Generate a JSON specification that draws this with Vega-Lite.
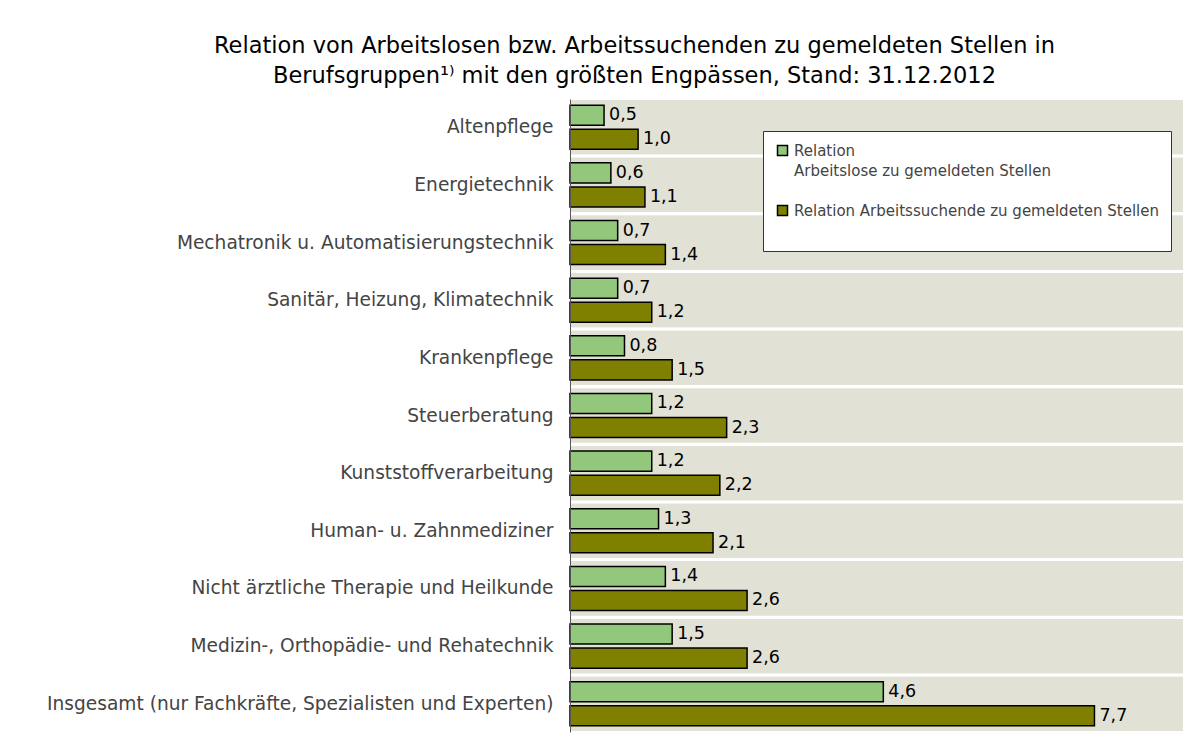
{
  "$schema": "https://vega.github.io/schema/vega-lite/v6.json",
  "width": 613,
  "height": 633,
  "autosize": {"type": "none"},
  "padding": {"left": 570, "top": 99, "right": 17, "bottom": 7},
  "background": "white",
  "title": {
    "text": ["Relation von Arbeitslosen bzw. Arbeitssuchenden zu gemeldeten Stellen in", "Berufsgruppen¹⁾ mit den größten Engpässen, Stand: 31.12.2012"],
    "anchor": "middle",
    "frame": "group",
    "dx": -242,
    "fontSize": 22.5,
    "font": "DejaVu Sans",
    "fontWeight": "normal",
    "color": "#000000",
    "lineHeight": 30,
    "offset": 12
  },
  "data": {
    "values": [
      {"Berufsgruppe": "Altenpflege", "Reihe": "Relation Arbeitslose zu gemeldeten Stellen", "Wert": 0.5},
      {"Berufsgruppe": "Altenpflege", "Reihe": "Relation Arbeitssuchende zu gemeldeten Stellen", "Wert": 1.0},
      {"Berufsgruppe": "Energietechnik", "Reihe": "Relation Arbeitslose zu gemeldeten Stellen", "Wert": 0.6},
      {"Berufsgruppe": "Energietechnik", "Reihe": "Relation Arbeitssuchende zu gemeldeten Stellen", "Wert": 1.1},
      {"Berufsgruppe": "Mechatronik u. Automatisierungstechnik", "Reihe": "Relation Arbeitslose zu gemeldeten Stellen", "Wert": 0.7},
      {"Berufsgruppe": "Mechatronik u. Automatisierungstechnik", "Reihe": "Relation Arbeitssuchende zu gemeldeten Stellen", "Wert": 1.4},
      {"Berufsgruppe": "Sanitär, Heizung, Klimatechnik", "Reihe": "Relation Arbeitslose zu gemeldeten Stellen", "Wert": 0.7},
      {"Berufsgruppe": "Sanitär, Heizung, Klimatechnik", "Reihe": "Relation Arbeitssuchende zu gemeldeten Stellen", "Wert": 1.2},
      {"Berufsgruppe": "Krankenpflege", "Reihe": "Relation Arbeitslose zu gemeldeten Stellen", "Wert": 0.8},
      {"Berufsgruppe": "Krankenpflege", "Reihe": "Relation Arbeitssuchende zu gemeldeten Stellen", "Wert": 1.5},
      {"Berufsgruppe": "Steuerberatung", "Reihe": "Relation Arbeitslose zu gemeldeten Stellen", "Wert": 1.2},
      {"Berufsgruppe": "Steuerberatung", "Reihe": "Relation Arbeitssuchende zu gemeldeten Stellen", "Wert": 2.3},
      {"Berufsgruppe": "Kunststoffverarbeitung", "Reihe": "Relation Arbeitslose zu gemeldeten Stellen", "Wert": 1.2},
      {"Berufsgruppe": "Kunststoffverarbeitung", "Reihe": "Relation Arbeitssuchende zu gemeldeten Stellen", "Wert": 2.2},
      {"Berufsgruppe": "Human- u. Zahnmediziner", "Reihe": "Relation Arbeitslose zu gemeldeten Stellen", "Wert": 1.3},
      {"Berufsgruppe": "Human- u. Zahnmediziner", "Reihe": "Relation Arbeitssuchende zu gemeldeten Stellen", "Wert": 2.1},
      {"Berufsgruppe": "Nicht ärztliche Therapie und Heilkunde", "Reihe": "Relation Arbeitslose zu gemeldeten Stellen", "Wert": 1.4},
      {"Berufsgruppe": "Nicht ärztliche Therapie und Heilkunde", "Reihe": "Relation Arbeitssuchende zu gemeldeten Stellen", "Wert": 2.6},
      {"Berufsgruppe": "Medizin-, Orthopädie- und Rehatechnik", "Reihe": "Relation Arbeitslose zu gemeldeten Stellen", "Wert": 1.5},
      {"Berufsgruppe": "Medizin-, Orthopädie- und Rehatechnik", "Reihe": "Relation Arbeitssuchende zu gemeldeten Stellen", "Wert": 2.6},
      {"Berufsgruppe": "Insgesamt (nur Fachkräfte, Spezialisten und Experten)", "Reihe": "Relation Arbeitslose zu gemeldeten Stellen", "Wert": 4.6},
      {"Berufsgruppe": "Insgesamt (nur Fachkräfte, Spezialisten und Experten)", "Reihe": "Relation Arbeitssuchende zu gemeldeten Stellen", "Wert": 7.7}
    ]
  },
  "encoding": {
    "y": {
      "field": "Berufsgruppe",
      "type": "nominal",
      "sort": null,
      "scale": {"paddingInner": 0.06, "paddingOuter": 0.02},
      "axis": {
        "title": null,
        "ticks": false,
        "grid": false,
        "domainColor": "#555555",
        "domainWidth": 1,
        "labelFont": "DejaVu Sans",
        "labelFontSize": 18.6,
        "labelColor": "#444444",
        "labelPadding": 17,
        "labelLimit": 600,
        "zindex": 1
      }
    }
  },
  "layer": [
    {
      "mark": {"type": "bar", "color": "#e1e1d5"},
      "encoding": {
        "x": {"datum": 0, "type": "quantitative", "scale": {"domain": [0, 9]}, "axis": null},
        "x2": {"datum": 9}
      }
    },
    {
      "mark": {"type": "bar", "stroke": "#000000", "strokeWidth": 1.5},
      "encoding": {
        "x": {"field": "Wert", "type": "quantitative", "scale": {"domain": [0, 9]}, "axis": null},
        "yOffset": {
          "field": "Reihe",
          "sort": ["Relation Arbeitslose zu gemeldeten Stellen", "Relation Arbeitssuchende zu gemeldeten Stellen"],
          "scale": {"paddingInner": 0.167, "paddingOuter": 0.21}
        },
        "color": {
          "field": "Reihe",
          "type": "nominal",
          "scale": {
            "domain": ["Relation Arbeitslose zu gemeldeten Stellen", "Relation Arbeitssuchende zu gemeldeten Stellen"],
            "range": ["#93c77b", "#808000"]
          },
          "legend": {
            "orient": "none",
            "legendX": 193,
            "legendY": 32,
            "title": null,
            "direction": "vertical",
            "fillColor": "white",
            "strokeColor": "#333333",
            "padding": 12,
            "symbolType": "square",
            "symbolSize": 100,
            "symbolStrokeColor": "#000000",
            "symbolStrokeWidth": 1.5,
            "labelFont": "DejaVu Sans",
            "labelFontSize": 15,
            "labelColor": "#444444",
            "labelLimit": 600,
            "labelOffset": 4,
            "rowPadding": 23,
            "labelExpr": "datum.label == 'Relation Arbeitslose zu gemeldeten Stellen' ? ['Relation', 'Arbeitslose zu gemeldeten Stellen'] : [datum.label, '']"
          }
        }
      }
    },
    {
      "mark": {"type": "text", "align": "left", "baseline": "middle", "dx": 5, "font": "DejaVu Sans", "fontSize": 17.5, "color": "#000000"},
      "encoding": {
        "x": {"field": "Wert", "type": "quantitative", "scale": {"domain": [0, 9]}, "axis": null},
        "yOffset": {
          "field": "Reihe",
          "sort": ["Relation Arbeitslose zu gemeldeten Stellen", "Relation Arbeitssuchende zu gemeldeten Stellen"],
          "scale": {"paddingInner": 0.167, "paddingOuter": 0.21}
        },
        "text": {"field": "Wert", "type": "quantitative", "format": ".1f"}
      }
    }
  ],
  "config": {
    "view": {"stroke": null},
    "locale": {"number": {"decimal": ",", "thousands": ".", "grouping": [3], "currency": ["", " €"]}},
    "style": {"guide-label": {"lineHeight": 20}}
  }
}
